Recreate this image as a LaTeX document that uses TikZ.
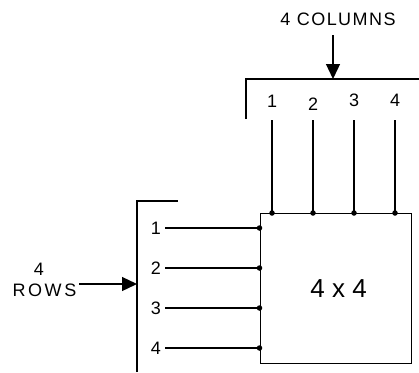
\documentclass[tikz,border=0pt]{standalone}
\usepackage{fontspec}
\setmainfont{Liberation Sans}
\newfontfamily\lblfont[LetterSpace=8]{Liberation Sans}
\newfontfamily\wideLblfont[LetterSpace=14]{Liberation Sans}
\usetikzlibrary{arrows.meta}
\begin{document}
\begin{tikzpicture}[x=1pt,y=-1pt,
  wire/.style={line width=1.3pt},
  lbl/.style={font=\lblfont\fontsize{18}{20}\selectfont, inner sep=0pt},
  jdot/.style={circle, fill, inner sep=0pt, minimum size=5.5pt},
  arr/.style={line width=1.3pt, -{Triangle[length=15pt,width=14pt]}}]
\useasboundingbox (0,0) rectangle (419,372);
% matrix box
\node[draw, line width=1.3pt, minimum width=151pt, minimum height=150pt, anchor=north west, inner sep=0pt] (box) at (259.5,213) {};
\node[font=\fontsize{26}{28}\selectfont, inner sep=0pt] (boxtxt) at ([xshift=3pt]box.center) {4 x 4};
% column bracket
\coordinate (cbl) at (246,119);
\coordinate (cbc) at (246,79);
\coordinate (cbr) at (419,79);
\coordinate (cbm) at (333,79);
\draw[wire] (cbl) -- (cbc) -- (cbr);
\node[lbl] (cols) at (338,19) {4 COLUMNS};
\coordinate (cas) at (333,35);
\draw[arr] (cas) -- (cbm);
% column labels and wires
\foreach \i/\x/\y in {1/272/101, 2/313/104.5, 3/354/100.5, 4/395/100.5}{
  \node[lbl] (cl\i) at (\x,\y) {\i};
  \coordinate (ct\i) at (\x,120);
  \node[jdot] (cd\i) at (\x,213) {};
  \draw[wire] (ct\i) -- (cd\i.center);
}
% row bracket
\coordinate (rbb) at (137,372);
\coordinate (rbc) at (137,201);
\coordinate (rbt) at (178,201);
\coordinate (rbm) at (137,284);
\draw[wire] (rbb) -- (rbc) -- (rbt);
\node[lbl] (rn) at (39,269) {4};
\node[lbl, font=\wideLblfont\fontsize{18}{20}\selectfont] (rows) at (44.5,290) {ROWS};
\coordinate (ras) at (79,284);
\draw[arr] (ras) -- (rbm);
% row labels and wires
\foreach \i/\y in {1/228, 2/268, 3/308, 4/348}{
  \node[lbl, anchor=east] (rl\i) at (161,\y) {\i};
  \coordinate (rs\i) at (165,\y);
  \node[jdot] (rd\i) at (259.5,\y) {};
  \draw[wire] (rs\i) -- (rd\i.center);
}
\end{tikzpicture}
\end{document}
